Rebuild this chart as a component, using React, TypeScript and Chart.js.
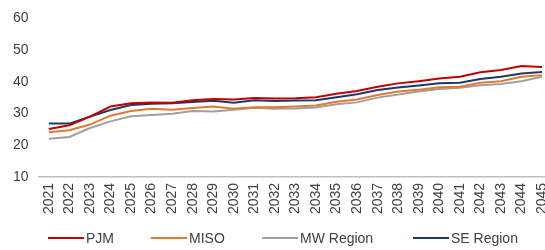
import React, { useEffect, useRef } from "react";
import { Chart, registerables } from "chart.js";

Chart.register(...registerables);

const years = [
  "2021", "2022", "2023", "2024", "2025", "2026", "2027", "2028", "2029", "2030",
  "2031", "2032", "2033", "2034", "2035", "2036", "2037", "2038", "2039", "2040",
  "2041", "2042", "2043", "2044", "2045",
];

const pjm = [25.1, 26.3, 29.0, 32.2, 33.2, 33.5, 33.4, 34.2, 34.6, 34.4, 34.9, 34.7, 34.8, 35.1, 36.2, 37.1, 38.4, 39.5, 40.2, 41.0, 41.6, 43.0, 43.7, 45.0, 44.7];
const miso = [24.1, 24.7, 26.5, 29.3, 30.8, 31.5, 31.2, 31.7, 32.2, 31.5, 32.0, 32.0, 32.2, 32.5, 33.7, 34.4, 35.8, 36.9, 37.5, 38.3, 38.4, 39.7, 40.2, 41.6, 42.1];
const mwRegion = [22.0, 22.6, 25.4, 27.5, 29.1, 29.5, 29.9, 30.8, 30.6, 31.2, 31.8, 31.5, 31.6, 31.9, 32.9, 33.5, 35.0, 36.0, 36.9, 37.7, 38.1, 38.9, 39.3, 40.2, 41.6];
const seRegion = [26.8, 26.8, 29.0, 31.1, 32.7, 33.1, 33.2, 33.6, 34.0, 33.4, 34.2, 33.9, 34.1, 34.2, 35.1, 36.1, 37.4, 38.2, 38.8, 39.5, 39.7, 40.9, 41.6, 42.6, 43.1];

const seriesNames = ["PJM", "MISO", "MW Region", "SE Region"];
const seriesColors = ["#C00000", "#E07A30", "#A0A0A0", "#1F3864"];

const FONT = "'Liberation Sans', Arial, sans-serif";

export default function App() {
  const canvasRef = useRef<HTMLCanvasElement | null>(null);

  useEffect(() => {
    if (!canvasRef.current) return;
    const values = [pjm, miso, mwRegion, seRegion];
    const chart = new Chart(canvasRef.current, {
      type: "line",
      data: {
        labels: years,
        datasets: values.map((v, i) => ({
          label: seriesNames[i],
          data: v,
          borderColor: seriesColors[i],
          backgroundColor: seriesColors[i],
          borderWidth: 2,
          pointRadius: 0,
          tension: 0,
        })),
      },
      options: {
        animation: false,
        responsive: false,
        maintainAspectRatio: false,
        layout: { padding: { left: 3, right: 8, top: 8, bottom: 30 } },
        font: { family: FONT, size: 14 },
        plugins: {
          tooltip: { enabled: false },
          legend: { display: false },
        },
        scales: {
          x: {
            offset: true,
            grid: { display: false, drawTicks: false },
            border: { display: true, color: "#BFBFBF", width: 1.5 },
            ticks: {
              minRotation: 90,
              maxRotation: 90,
              autoSkip: false,
              padding: 6,
              color: "#404040",
              font: { family: FONT, size: 14 },
            },
          },
          y: {
            min: 10,
            max: 60,
            grid: { display: false, drawTicks: false },
            border: { display: false },
            ticks: {
              stepSize: 10,
              padding: 10,
              autoSkip: false,
              color: "#404040",
              font: { family: FONT, size: 14 },
            },
          },
        },
      },
    });
    return () => chart.destroy();
  }, []);

  const starts = [48, 151, 262, 413];

  return (
    <div style={{ position: "fixed", left: 0, top: 0, width: 565, height: 250, overflow: "hidden", background: "#fff" }}>
      <canvas ref={canvasRef} width={565} height={250} style={{ width: 565, height: 250, display: "block" }} />
      {seriesNames.map((name, i) => (
        <div
          key={name}
          style={{
            position: "absolute",
            left: starts[i],
            top: 229,
            display: "flex",
            alignItems: "center",
            fontFamily: FONT,
            fontSize: 14,
            color: "#404040",
            whiteSpace: "nowrap",
            lineHeight: "18px",
          }}
        >
          <span style={{ display: "inline-block", width: 36, height: 1.5, background: seriesColors[i], marginRight: 2 }} />
          <span>{name}</span>
        </div>
      ))}
    </div>
  );
}
